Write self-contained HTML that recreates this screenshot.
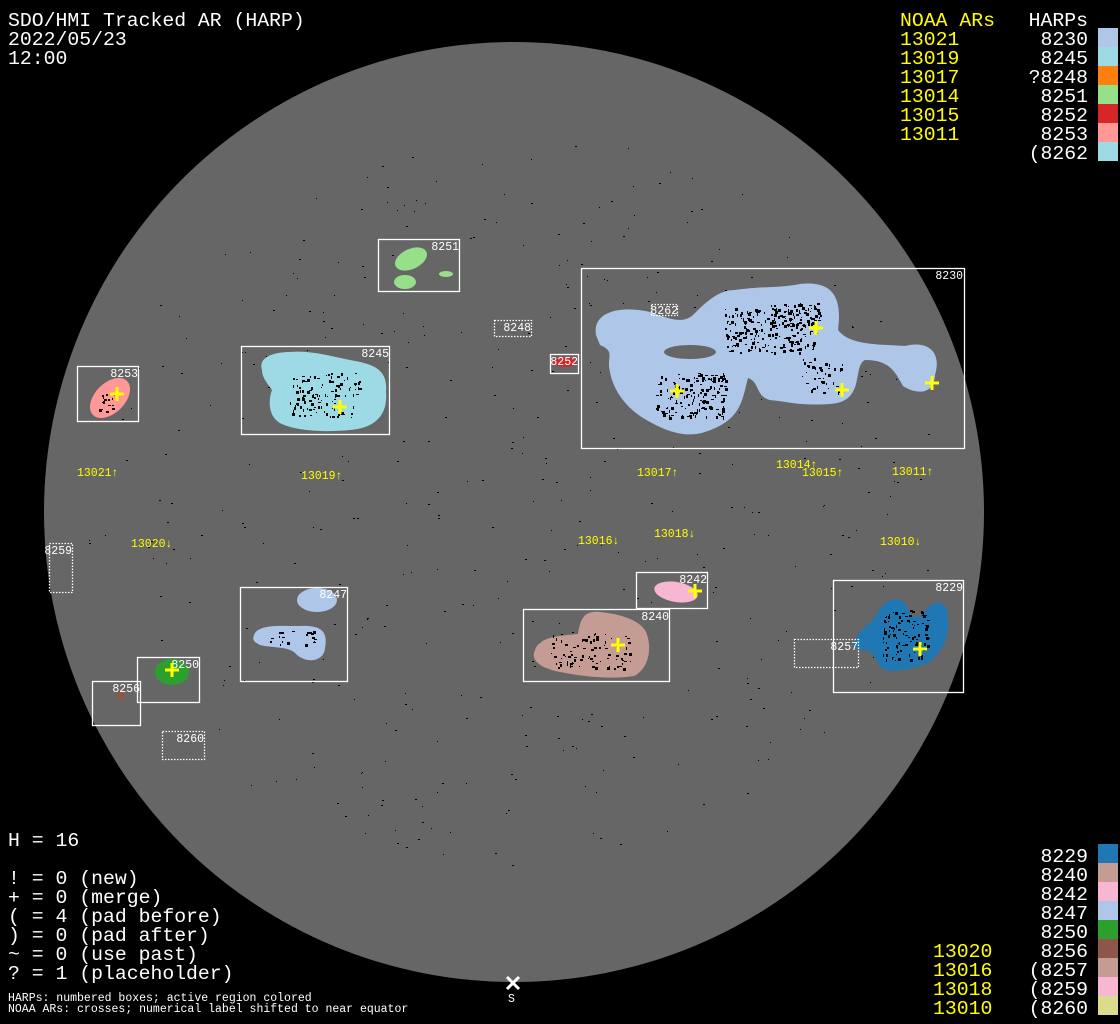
<!DOCTYPE html>
<html><head><meta charset="utf-8"><style>
html,body{margin:0;padding:0;background:#000;}
svg{display:block;}
.t{font-family:"Liberation Mono",monospace;font-size:19.8px;fill:#fff;}
.s{font-family:"Liberation Mono",monospace;font-size:11.5px;fill:#fff;}
.y{fill:#ffff00;}
.b{fill:none;stroke:#fff;stroke-width:1.3;}
.d{fill:none;stroke:#fff;stroke-width:1.3;stroke-dasharray:1.5 1.5;}
.x{stroke:#ffff00;stroke-width:3;}
</style></head><body>
<svg id="sv" width="1120" height="1024" viewBox="0 0 1120 1024" xmlns="http://www.w3.org/2000/svg">
<rect width="1120" height="1024" fill="#000"/>
<circle cx="514" cy="512" r="470" fill="#666"/>
<g id="sp"></g>
<path d="M596,335 C592,312 620,305 650,312 C672,320 684,324 694,314 C712,296 722,290 735,290 C765,286 780,288 800,284 C835,280 842,300 838,330 C850,346 880,344 905,346 C928,340 942,352 935,375 C934,396 915,394 903,386 C895,372 890,360 865,360 C852,366 866,402 830,404 C800,406 790,402 770,400 C755,396 760,382 748,378 C742,400 742,420 705,432 C684,439 662,430 640,416 C620,402 612,384 610,372 C606,356 616,352 600,345 Z" fill="#aec7e8"/>
<ellipse cx="690" cy="352" rx="26" ry="7" fill="#666"/>
<path d="M262,370 C258,358 272,352 290,352 C310,350 330,356 350,360 C372,364 388,368 386,392 C388,414 376,428 350,430 C330,432 300,432 282,424 C268,418 268,400 272,390 C268,384 262,378 262,370 Z" fill="#9edae5"/>
<ellipse cx="110" cy="398" rx="24" ry="15" transform="rotate(-45 110 398)" fill="#ff9896"/>
<ellipse cx="411" cy="259" rx="17" ry="10" transform="rotate(-25 411 259)" fill="#98df8a"/>
<ellipse cx="405" cy="282" rx="11" ry="7" fill="#98df8a"/>
<ellipse cx="446" cy="274" rx="7" ry="3" fill="#98df8a"/>
<ellipse cx="565" cy="362" rx="12" ry="5" fill="#d62728"/>
<ellipse cx="317" cy="600" rx="20" ry="12" fill="#aec7e8"/>
<path d="M254,635 C258,624 280,626 300,626 C322,625 328,632 325,648 C324,662 306,664 296,654 C290,646 270,648 260,645 C254,642 252,640 254,635 Z" fill="#aec7e8"/>
<ellipse cx="172" cy="672" rx="17" ry="13" fill="#2ca02c"/>
<ellipse cx="121" cy="695" rx="4" ry="5" fill="#8c564b"/>
<ellipse cx="676" cy="592" rx="22" ry="10" transform="rotate(10 676 592)" fill="#f7b6d2"/>
<path d="M535,650 C540,636 560,636 578,634 C580,622 582,610 600,612 C620,614 640,620 646,632 C652,646 650,668 634,676 C610,680 580,676 560,672 C540,668 530,660 535,650 Z" fill="#c49c94"/>
<path d="M855,640 C860,628 872,625 878,612 C884,600 900,594 906,605 C910,618 918,622 926,610 C932,600 948,598 948,618 C950,640 940,652 932,660 C920,668 900,672 886,670 C874,666 878,650 862,650 C854,648 852,646 855,640 Z" fill="#1f77b4"/>
<g id="spots" fill="#000"></g>
<rect class="b" x="581.5" y="268.5" width="383" height="180"/>
<rect class="b" x="241.5" y="346.5" width="148" height="88"/>
<rect class="b" x="77.5" y="366.5" width="61" height="55"/>
<rect class="b" x="378.5" y="239.5" width="81" height="52"/>
<rect class="d" x="494.5" y="320.5" width="37" height="16"/>
<rect class="b" x="550.5" y="354.5" width="28" height="19"/>
<rect class="d" x="49.5" y="543.5" width="23" height="49"/>
<rect class="b" x="240.5" y="587.5" width="107" height="94"/>
<rect class="b" x="137.5" y="657.5" width="62" height="45"/>
<rect class="b" x="92.5" y="681.5" width="48" height="44"/>
<rect class="d" x="162.5" y="731.5" width="42" height="28"/>
<rect class="b" x="636.5" y="572.5" width="71" height="36"/>
<rect class="b" x="523.5" y="609.5" width="146" height="72"/>
<rect class="d" x="794.5" y="639.5" width="64" height="28"/>
<rect class="b" x="833.5" y="580.5" width="130" height="112"/>
<rect class="d" x="651.5" y="304.5" width="26" height="11"/>
<g class="s" text-anchor="end">
<text x="963" y="279">8230</text>
<text x="389" y="357">8245</text>
<text x="138" y="377">8253</text>
<text x="459" y="250">8251</text>
<text x="531" y="331">8248</text>
<text x="578" y="365">8252</text>
<text x="72" y="554">8259</text>
<text x="347" y="598">8247</text>
<text x="199" y="668">8250</text>
<text x="140" y="692">8256</text>
<text x="204" y="742">8260</text>
<text x="707" y="583">8242</text>
<text x="669" y="620">8240</text>
<text x="858" y="650">8257</text>
<text x="963" y="591">8229</text>
<text x="678" y="314">8262</text>
</g>
<g class="x">
<path d="M809,328h14M816,321v14"/><path d="M670,391h14M677,384v14"/><path d="M835,390h14M842,383v14"/><path d="M925,383h14M932,376v14"/>
<path d="M333,407h14M340,400v14"/><path d="M110,394h14M117,387v14"/><path d="M165,670h14M172,663v14"/><path d="M688,591h14M695,584v14"/>
<path d="M611,645h14M618,638v14"/><path d="M913,649h14M920,642v14"/>
</g>
<g class="s y">
<text x="77" y="476">13021↑</text><text x="301" y="479">13019↑</text><text x="637" y="476">13017↑</text>
<text x="776" y="468">13014↑</text><text x="802" y="476">13015↑</text><text x="892" y="475">13011↑</text>
<text x="131" y="547">13020↓</text><text x="578" y="544">13016↓</text><text x="654" y="537">13018↓</text><text x="880" y="545">13010↓</text>
</g>
<path d="M507,977l12,12M519,977l-12,12" stroke="#fff" stroke-width="3"/>
<text class="s" x="508" y="1002">S</text>
<text class="t" x="8" y="26">SDO/HMI Tracked AR (HARP)</text>
<text class="t" x="8" y="45">2022/05/23</text>
<text class="t" x="8" y="64">12:00</text>
<g class="t y"><text x="900" y="26">NOAA ARs</text><text x="900" y="45">13021</text><text x="900" y="64">13019</text><text x="900" y="83">13017</text><text x="900" y="102">13014</text><text x="900" y="121">13015</text><text x="900" y="140">13011</text></g>
<g class="t" text-anchor="end"><text x="1088" y="26">HARPs</text><text x="1088" y="45">8230</text><text x="1088" y="64">8245</text><text x="1088" y="83">?8248</text><text x="1088" y="102">8251</text><text x="1088" y="121">8252</text><text x="1088" y="140">8253</text><text x="1088" y="159">(8262</text></g>
<rect x="1098" y="28" width="20" height="19" fill="#aec7e8"/><rect x="1098" y="47" width="20" height="19" fill="#9edae5"/><rect x="1098" y="66" width="20" height="19" fill="#ff7f0e"/><rect x="1098" y="85" width="20" height="19" fill="#98df8a"/><rect x="1098" y="104" width="20" height="19" fill="#d62728"/><rect x="1098" y="123" width="20" height="19" fill="#ff9896"/><rect x="1098" y="142" width="20" height="19" fill="#9edae5"/>
<g class="t"><text x="8" y="846">H = 16</text><text x="8" y="884">! = 0 (new)</text><text x="8" y="903">+ = 0 (merge)</text><text x="8" y="922">( = 4 (pad before)</text><text x="8" y="941">) = 0 (pad after)</text><text x="8" y="960">~ = 0 (use past)</text><text x="8" y="979">? = 1 (placeholder)</text></g>
<text class="s" x="8" y="1001">HARPs: numbered boxes; active region colored</text>
<text class="s" x="8" y="1012">NOAA ARs: crosses; numerical label shifted to near equator</text>
<g class="t" text-anchor="end"><text x="1088" y="862">8229</text><text x="1088" y="881">8240</text><text x="1088" y="900">8242</text><text x="1088" y="919">8247</text><text x="1088" y="938">8250</text><text x="1088" y="957">8256</text><text x="1088" y="976">(8257</text><text x="1088" y="995">(8259</text><text x="1088" y="1014">(8260</text></g>
<g class="t y"><text x="933" y="957">13020</text><text x="933" y="976">13016</text><text x="933" y="995">13018</text><text x="933" y="1014">13010</text></g>
<rect x="1098" y="844" width="20" height="19" fill="#1f77b4"/><rect x="1098" y="863" width="20" height="19" fill="#c49c94"/><rect x="1098" y="882" width="20" height="19" fill="#f7b6d2"/><rect x="1098" y="901" width="20" height="19" fill="#aec7e8"/><rect x="1098" y="920" width="20" height="19" fill="#2ca02c"/><rect x="1098" y="939" width="20" height="19" fill="#8c564b"/><rect x="1098" y="958" width="20" height="19" fill="#c49c94"/><rect x="1098" y="977" width="20" height="19" fill="#f7b6d2"/><rect x="1098" y="996" width="20" height="19" fill="#dbdb8d"/>
</svg>
<script>
(function(){
var s=12345;function r(){s=(s*1103515245+12345)%2147483648;return s/2147483648;}
var h="";
for(var i=0;i<450;i++){var a=r()*6.283,d=Math.sqrt(r())*430,x=514+d*Math.cos(a),y=500+d*Math.sin(a)*0.85;
h+='<rect x="'+x.toFixed(0)+'" y="'+y.toFixed(0)+'" width="'+(1+Math.floor(r()*2))+'" height="1" fill="#000"/>';}
document.getElementById("sp").innerHTML=h;
var c=[[770,330,45,22,200],[690,395,35,22,160],[325,395,35,22,110],[820,375,22,18,40],[590,650,40,18,90],[905,635,22,25,100],[295,638,25,8,20],[108,402,10,9,15],[795,315,25,12,70]];
var k="";
for(var j=0;j<c.length;j++){var q=c[j];for(var m=0;m<q[4];m++){var x=q[0]+(r()*2-1)*q[2],y=q[1]+(r()*2-1)*q[3];
k+='<rect x="'+x.toFixed(0)+'" y="'+y.toFixed(0)+'" width="'+(1+Math.floor(r()*3))+'" height="'+(1+Math.floor(r()*3))+'"/>';}}
document.getElementById("spots").innerHTML=k;
})();
</script>
</body></html>
